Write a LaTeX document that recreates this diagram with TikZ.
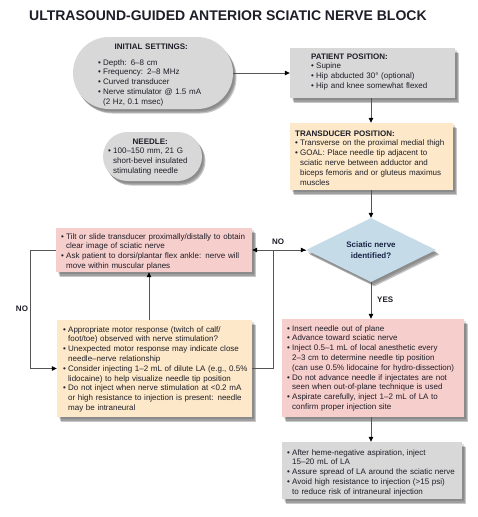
\documentclass[tikz,border=0pt]{standalone}
\usepackage{fontspec}
\setmainfont{Liberation Sans}
\usetikzlibrary{shapes.geometric,shapes.misc,arrows.meta,shadows}
\definecolor{boxgray}{RGB}{216,216,216}
\definecolor{peach}{RGB}{253,233,201}
\definecolor{pinkbox}{RGB}{246,206,204}
\definecolor{diablue}{RGB}{197,220,232}
\definecolor{txtcol}{RGB}{30,30,40}
\definecolor{navy}{RGB}{25,35,70}
\definecolor{linecol}{RGB}{85,85,85}
\newcommand\bl{\makebox[5pt][l]{\textbullet}}
\newcommand\ind{\hspace*{5pt}}
\begin{document}
\begin{tikzpicture}[x=1pt,y=-1pt,
  shad/.style={
    general shadow={fill=black,opacity=0.12,shadow xshift=1.5pt,shadow yshift=-2pt},
    general shadow={fill=black,opacity=0.20,shadow xshift=2.5pt,shadow yshift=-3.5pt},
    general shadow={fill=black,opacity=0.22,shadow xshift=3.5pt,shadow yshift=-4.5pt}},
  box/.style={shad, rectangle, inner sep=0pt, draw=none},
  gbox/.style={box, fill=boxgray},
  pbox/.style={box, fill=peach},
  rbox/.style={box, fill=pinkbox},
  txt/.style={anchor=base west, text width=260pt, align=left, inner sep=0pt,
    font=\fontsize{8}{9.8}\selectfont, text=txtcol},
  lbl/.style={inner sep=0pt, font=\fontsize{8}{9.8}\selectfont\bfseries, text=txtcol},
  arr/.style={draw=linecol, line width=0.8pt, -{Triangle[length=5pt,width=4.5pt,color=black]}},
  ln/.style={draw=linecol, line width=0.8pt}
]
\useasboundingbox (0,0) rectangle (477,517);
\fill[white] (0,0) rectangle (477,517);

\node[anchor=base west, inner sep=0pt, font=\fontsize{14}{16}\selectfont\bfseries, text=txtcol] (title) at (29,20) {ULTRASOUND-GUIDED ANTERIOR SCIATIC NERVE BLOCK};

% boxes
\node[gbox, rounded rectangle, minimum width=160pt, minimum height=72pt] (init) at (153,73) {};
\node[txt] (initT) at (98,49) {\makebox[106pt][c]{\textbf{INITIAL SETTINGS:}}\\[6.2pt]
\bl Depth: 6--8 cm\\ \bl Frequency: 2--8 MHz\\ \bl Curved transducer\\ \bl Nerve stimulator @ 1.5 mA\\ \ind(2 Hz, 0.1 msec)};

\node[gbox, minimum width=165pt, minimum height=50pt] (patient) at (372.5,73) {};
\node[txt] (patientT) at (311,59) {\textbf{PATIENT POSITION:}\\ \bl Supine\\ \bl Hip abducted 30° (optional)\\ \bl Hip and knee somewhat flexed};

\node[pbox, minimum width=163pt, minimum height=67pt] (transducer) at (371.5,156.5) {};
\node[txt] (transducerT) at (295,136) {\textbf{TRANSDUCER POSITION:}\\ \bl Transverse on the proximal medial thigh\\ \bl GOAL: Place needle tip adjacent to\\ \ind sciatic nerve between adductor and\\ \ind biceps femoris and or gluteus maximus\\ \ind muscles};

\node[gbox, rounded rectangle, minimum width=99pt, minimum height=49pt] (needle) at (152.5,156.5) {};
\node[txt] (needleT) at (108,144) {\makebox[84pt][c]{\textbf{NEEDLE:}}\\ \bl 100--150 mm, 21 G\\ \ind short-bevel insulated\\ \ind stimulating needle};

\node[diamond, shad, fill=diablue, minimum width=130pt, minimum height=64pt, inner sep=0pt, aspect=2,
  align=center, font=\fontsize{8}{10.5}\selectfont\bfseries, text=navy] (diam) at (371,250) {Sciatic nerve\\identified?};

\node[rbox, minimum width=196pt, minimum height=44pt] (tilt) at (154,250) {};
\node[txt] (tiltT) at (61,239) {\bl Tilt or slide transducer proximally/distally to obtain\\ \ind clear image of sciatic nerve\\ \bl Ask patient to dorsi/plantar flex ankle: nerve will\\ \ind move within muscular planes};

\node[pbox, minimum width=195pt, minimum height=97pt] (motor) at (154.5,368.5) {};
\node[txt] (motorT) at (63,332) {\bl Appropriate motor response (twitch of calf/\\ \ind foot/toe) observed with nerve stimulation?\\ \bl Unexpected motor response may indicate close\\ \ind needle--nerve relationship\\ \bl Consider injecting 1--2 mL of dilute LA (e.g., 0.5\%\\ \ind lidocaine) to help visualize needle tip position\\ \bl Do not inject when nerve stimulation at <0.2 mA\\ \ind or high resistance to injection is present: needle\\ \ind may be intraneural};

\node[rbox, minimum width=182pt, minimum height=98pt] (insert) at (373,368) {};
\node[txt] (insertT) at (287,331) {\bl Insert needle out of plane\\ \bl Advance toward sciatic nerve\\ \bl Inject 0.5--1 mL of local anesthetic every\\ \ind 2--3 cm to determine needle tip position\\ \ind (can use 0.5\% lidocaine for hydro-dissection)\\ \bl Do not advance needle if injectates are not\\ \ind seen when out-of-plane technique is used\\ \bl Aspirate carefully, inject 1--2 mL of LA to\\ \ind confirm proper injection site};

\node[gbox, minimum width=180pt, minimum height=57pt] (final) at (372,470.5) {};
\node[txt] (finalT) at (287,455) {\bl After heme-negative aspiration, inject\\ \ind 15--20 mL of LA\\ \bl Assure spread of LA around the sciatic nerve\\ \bl Avoid high resistance to injection (>15 psi)\\ \ind to reduce risk of intraneural injection};

% helper coordinates
\coordinate (axis) at (371,0);
\coordinate (up) at (149,0);
\coordinate (jr) at (273,250);
\coordinate (jl) at (30,250);

% connectors
\draw[arr] (init.east) -- (patient.west);
\draw[arr] (patient.south -| axis) -- (transducer.north -| axis);
\draw[arr] (transducer.south -| axis) -- (diam.north);
\draw[arr] (diam.south) -- (insert.north -| axis);
\draw[arr] (insert.south -| axis) -- (final.north -| axis);
\draw[arr] (diam.west) -- (tilt.east);
\draw[arr] (motor.east) -| (jr) -- (diam.west);
\draw[arr] (tilt.west) -- (jl) |- (motor.west);
\draw[arr] (motor.north -| up) -- (tilt.south -| up);

% labels
\node[lbl] (no1) at (278,242) {NO};
\node[lbl] (no2) at (22,309) {NO};
\node[lbl, anchor=west] (yes) at (377,300) {YES};
\end{tikzpicture}
\end{document}
